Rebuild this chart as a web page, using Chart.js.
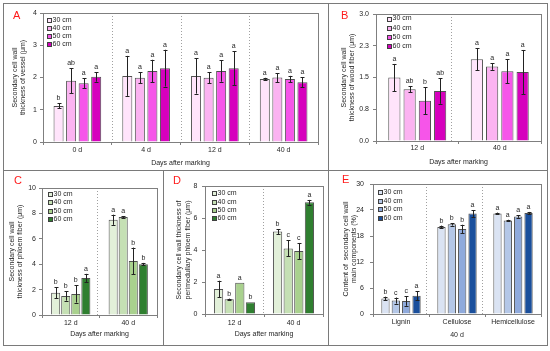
<!DOCTYPE html>
<html>
<head>
<meta charset="utf-8">
<script src="https://cdn.jsdelivr.net/npm/chart.js@4.4.1/dist/chart.umd.min.js"></script>
<style>
  body { margin: 0; background: #fff; }
  #fig { position: relative; width: 550px; height: 351px; }
  .panel { position: absolute; box-sizing: border-box; border: 1px solid #7a7a7a; }
  canvas { position: absolute; }
  .tag { position: absolute; color: #ff1a1a; font: 11px "Liberation Sans", Arial, sans-serif; line-height: 11px; }
</style>
</head>
<body>
<div id="fig">
  <div class="panel" style="left:3px;top:3px;width:326px;height:168px"></div>
  <div class="panel" style="left:328px;top:3px;width:220px;height:168px"></div>
  <div class="panel" style="left:3px;top:170px;width:161px;height:176px"></div>
  <div class="panel" style="left:163px;top:170px;width:166px;height:176px"></div>
  <div class="panel" style="left:328px;top:170px;width:220px;height:176px"></div>

  <canvas id="cA" width="325" height="167" style="left:3px;top:3px"></canvas>
  <canvas id="cB" width="219" height="167" style="left:328px;top:3px"></canvas>
  <canvas id="cC" width="160" height="175" style="left:3px;top:170px"></canvas>
  <canvas id="cD" width="165" height="175" style="left:163px;top:170px"></canvas>
  <canvas id="cE" width="219" height="175" style="left:328px;top:170px"></canvas>

  <div class="tag" style="left:13px;top:10px">A</div>
  <div class="tag" style="left:341px;top:10px">B</div>
  <div class="tag" style="left:14px;top:175px">C</div>
  <div class="tag" style="left:173px;top:175px">D</div>
  <div class="tag" style="left:342px;top:174px">E</div>
</div>

<script>
const heights = ['30 cm', '40 cm', '50 cm', '60 cm'];

// A - vessel
const daysA = ['0 d', '4 d', '12 d', '40 d'];
const vesselMean = [[1.12, 2.05, 2.05, 1.95], [1.90, 1.99, 1.99, 2.00], [1.82, 2.20, 2.20, 1.95], [2.02, 2.29, 2.29, 1.85]];
const vesselErr = [[0.08, 0.62, 0.55, 0.04], [0.39, 0.17, 0.17, 0.14], [0.15, 0.35, 0.33, 0.10], [0.15, 0.57, 0.52, 0.16]];
const vesselSig = [['b', 'a', 'a', 'a'], ['ab', 'a', 'a', 'a'], ['a', 'a', 'a', 'a'], ['a', 'a', 'a', 'a']];
const ticksA = [0, 1, 2, 3, 4];

// B - wood fiber
const daysB = ['12 d', '40 d'];
const woodMean = [[1.50, 1.93], [1.22, 1.76], [0.95, 1.65], [1.18, 1.63]];
const woodErr = [[0.32, 0.26], [0.07, 0.08], [0.32, 0.28], [0.30, 0.52]];
const woodSig = [['a', 'a'], ['ab', 'a'], ['b', 'a'], ['ab', 'a']];
const ticksB = [0, 0.75, 1.5, 2.25, 3];
const tickTextB = ['0.0', '0.8', '1.5', '2.3', '3.0'];

// C - phloem fiber
const daysC = ['12 d', '40 d'];
const phloemMean = [[1.76, 7.50], [1.50, 7.71], [1.66, 4.26], [2.92, 4.00]];
const phloemErr = [[0.43, 0.40], [0.37, 0.07], [0.68, 1.05], [0.32, 0.10]];
const phloemSig = [['b', 'a'], ['b', 'a'], ['b', 'b'], ['a', 'b']];
const ticksC = [0, 2, 4, 6, 8, 10];

// D - perimedullary phloem fiber
const daysD = ['12 d', '40 d'];
const periMean = [[1.56, 5.15], [0.92, 4.10], [1.96, 3.94], [0.73, 6.98]];
const periErr = [[0.52, 0.15], [0.04, 0.50], [0, 0.50], [0, 0.15]];
const periSig = [['a', 'b'], ['b', 'c'], ['a', 'c'], ['b', 'a']];
const ticksD = [0, 2, 4, 6, 8];

// E - main components, 40 d
const components = ['Lignin', 'Cellulose', 'Hemicellulose'];
const compMean = [[3.6, 20.1, 23.2], [3.1, 20.7, 21.6], [3.0, 19.6, 22.5], [4.2, 23.2, 23.3]];
const compErr = [[0.4, 0.3, 0.2], [0.7, 0.3, 0.15], [1.1, 1.0, 0.3], [1.0, 0.8, 0.25]];
const compSig = [['b', 'b', 'a'], ['c', 'b', 'a'], ['c', 'b', 'a'], ['a', 'a', 'a']];
const ticksE = [0, 6, 12, 18, 24, 30];

const pink = ['#ffe4fb', '#fbb3f1', '#f655e9', '#d600bd'];
const green = ['#e2f0d9', '#c5e0b4', '#a9d18e', '#2f7f30'];
const blue = ['#dae3f3', '#b4c7e7', '#8faadc', '#1a4f9c'];

const FAMILY = '"Liberation Sans", Arial, sans-serif';
const TXT = '#262626';

// dividers, error bars, letters, plot frame and legend
const deco = {
  id: 'deco',
  afterDatasetsDraw(chart, args, opt) {
    const ctx = chart.ctx, a = chart.chartArea;
    const x = chart.scales.x, y = chart.scales.y;
    ctx.save();
    ctx.lineWidth = 1;
    ctx.strokeStyle = '#a0a0a0';
    ctx.setLineDash([1, 2]);
    opt.dividers.forEach(function (v) {
      const px = Math.round(x.getPixelForValue(v)) + 0.5;
      ctx.beginPath();
      ctx.moveTo(px, a.top);
      ctx.lineTo(px, a.bottom);
      ctx.stroke();
    });
    ctx.setLineDash([]);

    ctx.strokeStyle = '#222';
    ctx.fillStyle = TXT;
    ctx.font = '7px ' + FAMILY;
    ctx.textAlign = 'center';
    ctx.textBaseline = 'alphabetic';
    chart.data.datasets.forEach(function (ds, i) {
      chart.getDatasetMeta(i).data.forEach(function (bar, j) {
        const v = ds.data[j], e = ds.errors[j];
        const cx = Math.round(bar.x) + 0.5;
        const t = y.getPixelForValue(v + e), b = y.getPixelForValue(v - e);
        if (e > 0) {
          ctx.beginPath();
          ctx.moveTo(cx, t); ctx.lineTo(cx, b);
          ctx.moveTo(cx - 2, Math.round(t) + 0.5); ctx.lineTo(cx + 2, Math.round(t) + 0.5);
          ctx.moveTo(cx - 2, Math.round(b) + 0.5); ctx.lineTo(cx + 2, Math.round(b) + 0.5);
          ctx.stroke();
        }
        ctx.fillText(ds.sig[j], bar.x, t - 3);
      });
    });

    ctx.strokeStyle = '#7f7f7f';
    const l = Math.round(a.left) + 0.5, tp = Math.round(a.top) + 0.5;
    ctx.strokeRect(l, tp, Math.round(a.right) - Math.round(a.left), Math.round(a.bottom) - Math.round(a.top));

    // legend inside plot
    ctx.textAlign = 'left';
    ctx.textBaseline = 'middle';
    chart.data.datasets.forEach(function (ds, i) {
      const sx = Math.round(a.left + opt.legend[0]) + 0.5;
      const cy = a.top + opt.legend[1] + i * opt.legend[2];
      ctx.fillStyle = ds.backgroundColor;
      ctx.fillRect(sx, Math.round(cy - 2) + 0.5, 4, 4);
      ctx.strokeStyle = '#404040';
      ctx.strokeRect(sx, Math.round(cy - 2) + 0.5, 4, 4);
      ctx.fillStyle = TXT;
      ctx.fillText(ds.label, sx + 5, cy);
    });
    ctx.restore();
  }
};

function panel(id, o) {
  const canvas = document.getElementById(id);
  const W = canvas.width, H = canvas.height;
  const font = {family: FAMILY, size: 7};
  return new Chart(canvas, {
    type: 'bar',
    data: {
      labels: o.labels,
      datasets: heights.map(function (h, i) {
        return {
          label: h,
          data: o.mean[i],
          errors: o.err[i],
          sig: o.sig[i],
          backgroundColor: o.colors[i],
          borderColor: '#505050',
          borderWidth: 1,
          categoryPercentage: o.cat,
          barPercentage: o.bar
        };
      })
    },
    options: {
      responsive: false,
      animation: false,
      layout: {padding: {left: 0, top: o.area[1], right: W - o.area[2], bottom: 0}},
      plugins: {
        legend: {display: false},
        tooltip: {enabled: false},
        deco: {dividers: o.dividers, legend: o.legend}
      },
      scales: {
        x: {
          grid: {drawOnChartArea: false, drawTicks: true, tickLength: 3, color: '#808080'},
          border: {display: false},
          ticks: {font: font, color: TXT, padding: o.xPad, maxRotation: 0, autoSkip: false},
          title: {display: true, text: o.xTitle, font: font, color: TXT, padding: {top: 0, bottom: o.xTitlePad}},
          afterFit: function (s) { s.height = H - o.area[3]; }
        },
        y: {
          min: 0,
          max: o.ticks[o.ticks.length - 1],
          afterBuildTicks: function (s) { s.ticks = o.ticks.map(function (v) { return {value: v}; }); },
          ticks: {
            font: font, color: TXT, padding: o.yPad,
            callback: function (v, i) { return o.tickText ? o.tickText[i] : v; }
          },
          grid: {drawOnChartArea: false, tickLength: 3, color: '#808080'},
          border: {display: false},
          title: {
            display: true, text: o.yTitle, color: TXT,
            font: {family: FAMILY, size: 7, lineHeight: 1.15},
            padding: {top: o.yTitlePad, bottom: 0}
          },
          afterFit: function (s) { s.width = o.area[0]; }
        }
      }
    },
    plugins: [deco]
  });
}

panel('cA', {
  labels: daysA, mean: vesselMean, err: vesselErr, sig: vesselSig, colors: pink,
  ticks: ticksA, area: [40, 10, 315, 139], cat: 0.73, bar: 0.8,
  dividers: [0.5, 1.5, 2.5], legend: [4, 7, 7.9],
  xPad: 1, xTitle: 'Days after marking', xTitlePad: 3,
  yPad: 3, yTitle: ['Secondary cell wall', 'thickness of vessel (μm)'], yTitlePad: 8
});

panel('cB', {
  labels: daysB, mean: woodMean, err: woodErr, sig: woodSig, colors: pink,
  ticks: ticksB, tickText: tickTextB, area: [48, 11, 213, 138], cat: 0.74, bar: 0.8,
  dividers: [0.41], legend: [11, 4.5, 9.1],
  xPad: 0, xTitle: 'Days after marking', xTitlePad: 4,
  yPad: 4, yTitle: ['Secondary cell wall', 'thickness of wood fiber (μm)'], yTitlePad: 12
});

panel('cC', {
  labels: daysC, mean: phloemMean, err: phloemErr, sig: phloemSig, colors: green,
  ticks: ticksC, area: [39, 18, 154, 145], cat: 0.7, bar: 0.9,
  dividers: [0.457], legend: [6, 6, 8.4],
  xPad: 0.5, xTitle: 'Days after marking', xTitlePad: 6.8,
  yPad: 3, yTitle: ['Secondary cell wall', 'thickness of phloem fiber (μm)'], yTitlePad: 4.7
});

panel('cD', {
  labels: daysD, mean: periMean, err: periErr, sig: periSig, colors: green,
  ticks: ticksD, area: [42, 16, 160, 144], cat: 0.72, bar: 0.87,
  dividers: [0.478], legend: [7, 7.3, 8.3],
  xPad: 1.5, xTitle: 'Days after marking', xTitlePad: 6.8,
  yPad: 4.5, yTitle: ['Secondary cell wall thickness of', 'perimedullary phloem fiber (μm)'], yTitlePad: 12.5
});

panel('cE', {
  labels: components, mean: compMean, err: compErr, sig: compSig, colors: blue,
  ticks: ticksE, area: [45, 14, 213, 144], cat: 0.74, bar: 0.8,
  dividers: [0.44, 1.45], legend: [4.5, 8.3, 8.5],
  xPad: 0.5, xTitle: '40 d', xTitlePad: 5.8,
  yPad: 6, yTitle: ['Content of  secondary cell wall', 'main components (%)'], yTitlePad: 14
});
</script>
</body>
</html>
